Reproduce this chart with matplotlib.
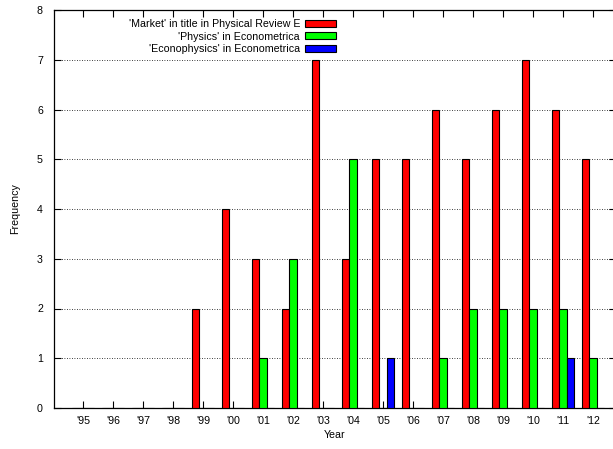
import matplotlib
matplotlib.use('Agg')
import matplotlib.pyplot as plt
import matplotlib.patches as mpatches
import numpy as np

plt.rcParams['font.family'] = ['Liberation Sans', 'DejaVu Sans']

# year labels and the three series
years = ["'95", "'96", "'97", "'98", "'99", "'00", "'01", "'02", "'03",
         "'04", "'05", "'06", "'07", "'08", "'09", "'10", "'11", "'12"]
market_pre = [0, 0, 0, 0, 2, 4, 3, 2, 7, 3, 5, 5, 6, 5, 6, 7, 6, 5]
physics_ecta = [0, 0, 0, 0, 0, 0, 1, 3, 0, 5, 0, 0, 1, 2, 2, 2, 2, 1]
econophys_ecta = [0, 0, 0, 0, 0, 0, 0, 0, 0, 0, 1, 0, 0, 0, 0, 0, 1, 0]

labels = ["'Market' in title in Physical Review E",
          "'Physics' in Econometrica",
          "'Econophysics' in Econometrica"]
colors = ['#ff0000', '#00ff00', '#0000ff']

W, H = 613, 449
fs = 7.7
fig = plt.figure(figsize=(W / 100, H / 100), dpi=100)
# plot area in pixels: left 54, right beyond the image edge, top 10, bottom 408
ax = fig.add_axes([54 / W, (H - 408) / H, (616 - 54) / W, (408 - 10) / H])

x = np.arange(len(years))
bw = 0.25
for i, (vals, col) in enumerate(zip([market_pre, physics_ecta, econophys_ecta], colors)):
    ax.bar(x + (i - 1) * bw, vals, width=bw, color=col, edgecolor='black',
           linewidth=0.8, zorder=3)

ax.set_xlim(-0.967, 17.77)
ax.set_ylim(0, 8)
ax.set_xticks(x)
ax.set_xticklabels(years)
ax.set_yticks(range(0, 9))
ax.tick_params(direction='in', length=5, width=0.8, labelsize=fs, top=True,
               right=True, pad=6)
ax.tick_params(axis='y', pad=8)
ax.yaxis.grid(True, linestyle=(0, (1, 2)), color='black', linewidth=0.6, zorder=0)
ax.set_axisbelow(True)
for s in ax.spines.values():
    s.set_linewidth(0.9)

ax.set_xlabel('Year', fontsize=fs, labelpad=3)
ax.set_ylabel('Frequency', fontsize=fs, labelpad=12)

handles = [mpatches.Patch(facecolor=c, edgecolor='black', linewidth=0.8) for c in colors]
leg = ax.legend(handles, labels, loc='upper right', bbox_to_anchor=(0.502, 0.977),
                frameon=False, markerfirst=False, fontsize=fs, handlelength=2.9,
                handleheight=0.65, handletextpad=0.47, labelspacing=0.22,
                borderaxespad=0, borderpad=0)
for t in leg.get_texts():
    t.set_ha('right')
leg._legend_box.align = 'right'

fig.savefig('out.png', dpi=100)
